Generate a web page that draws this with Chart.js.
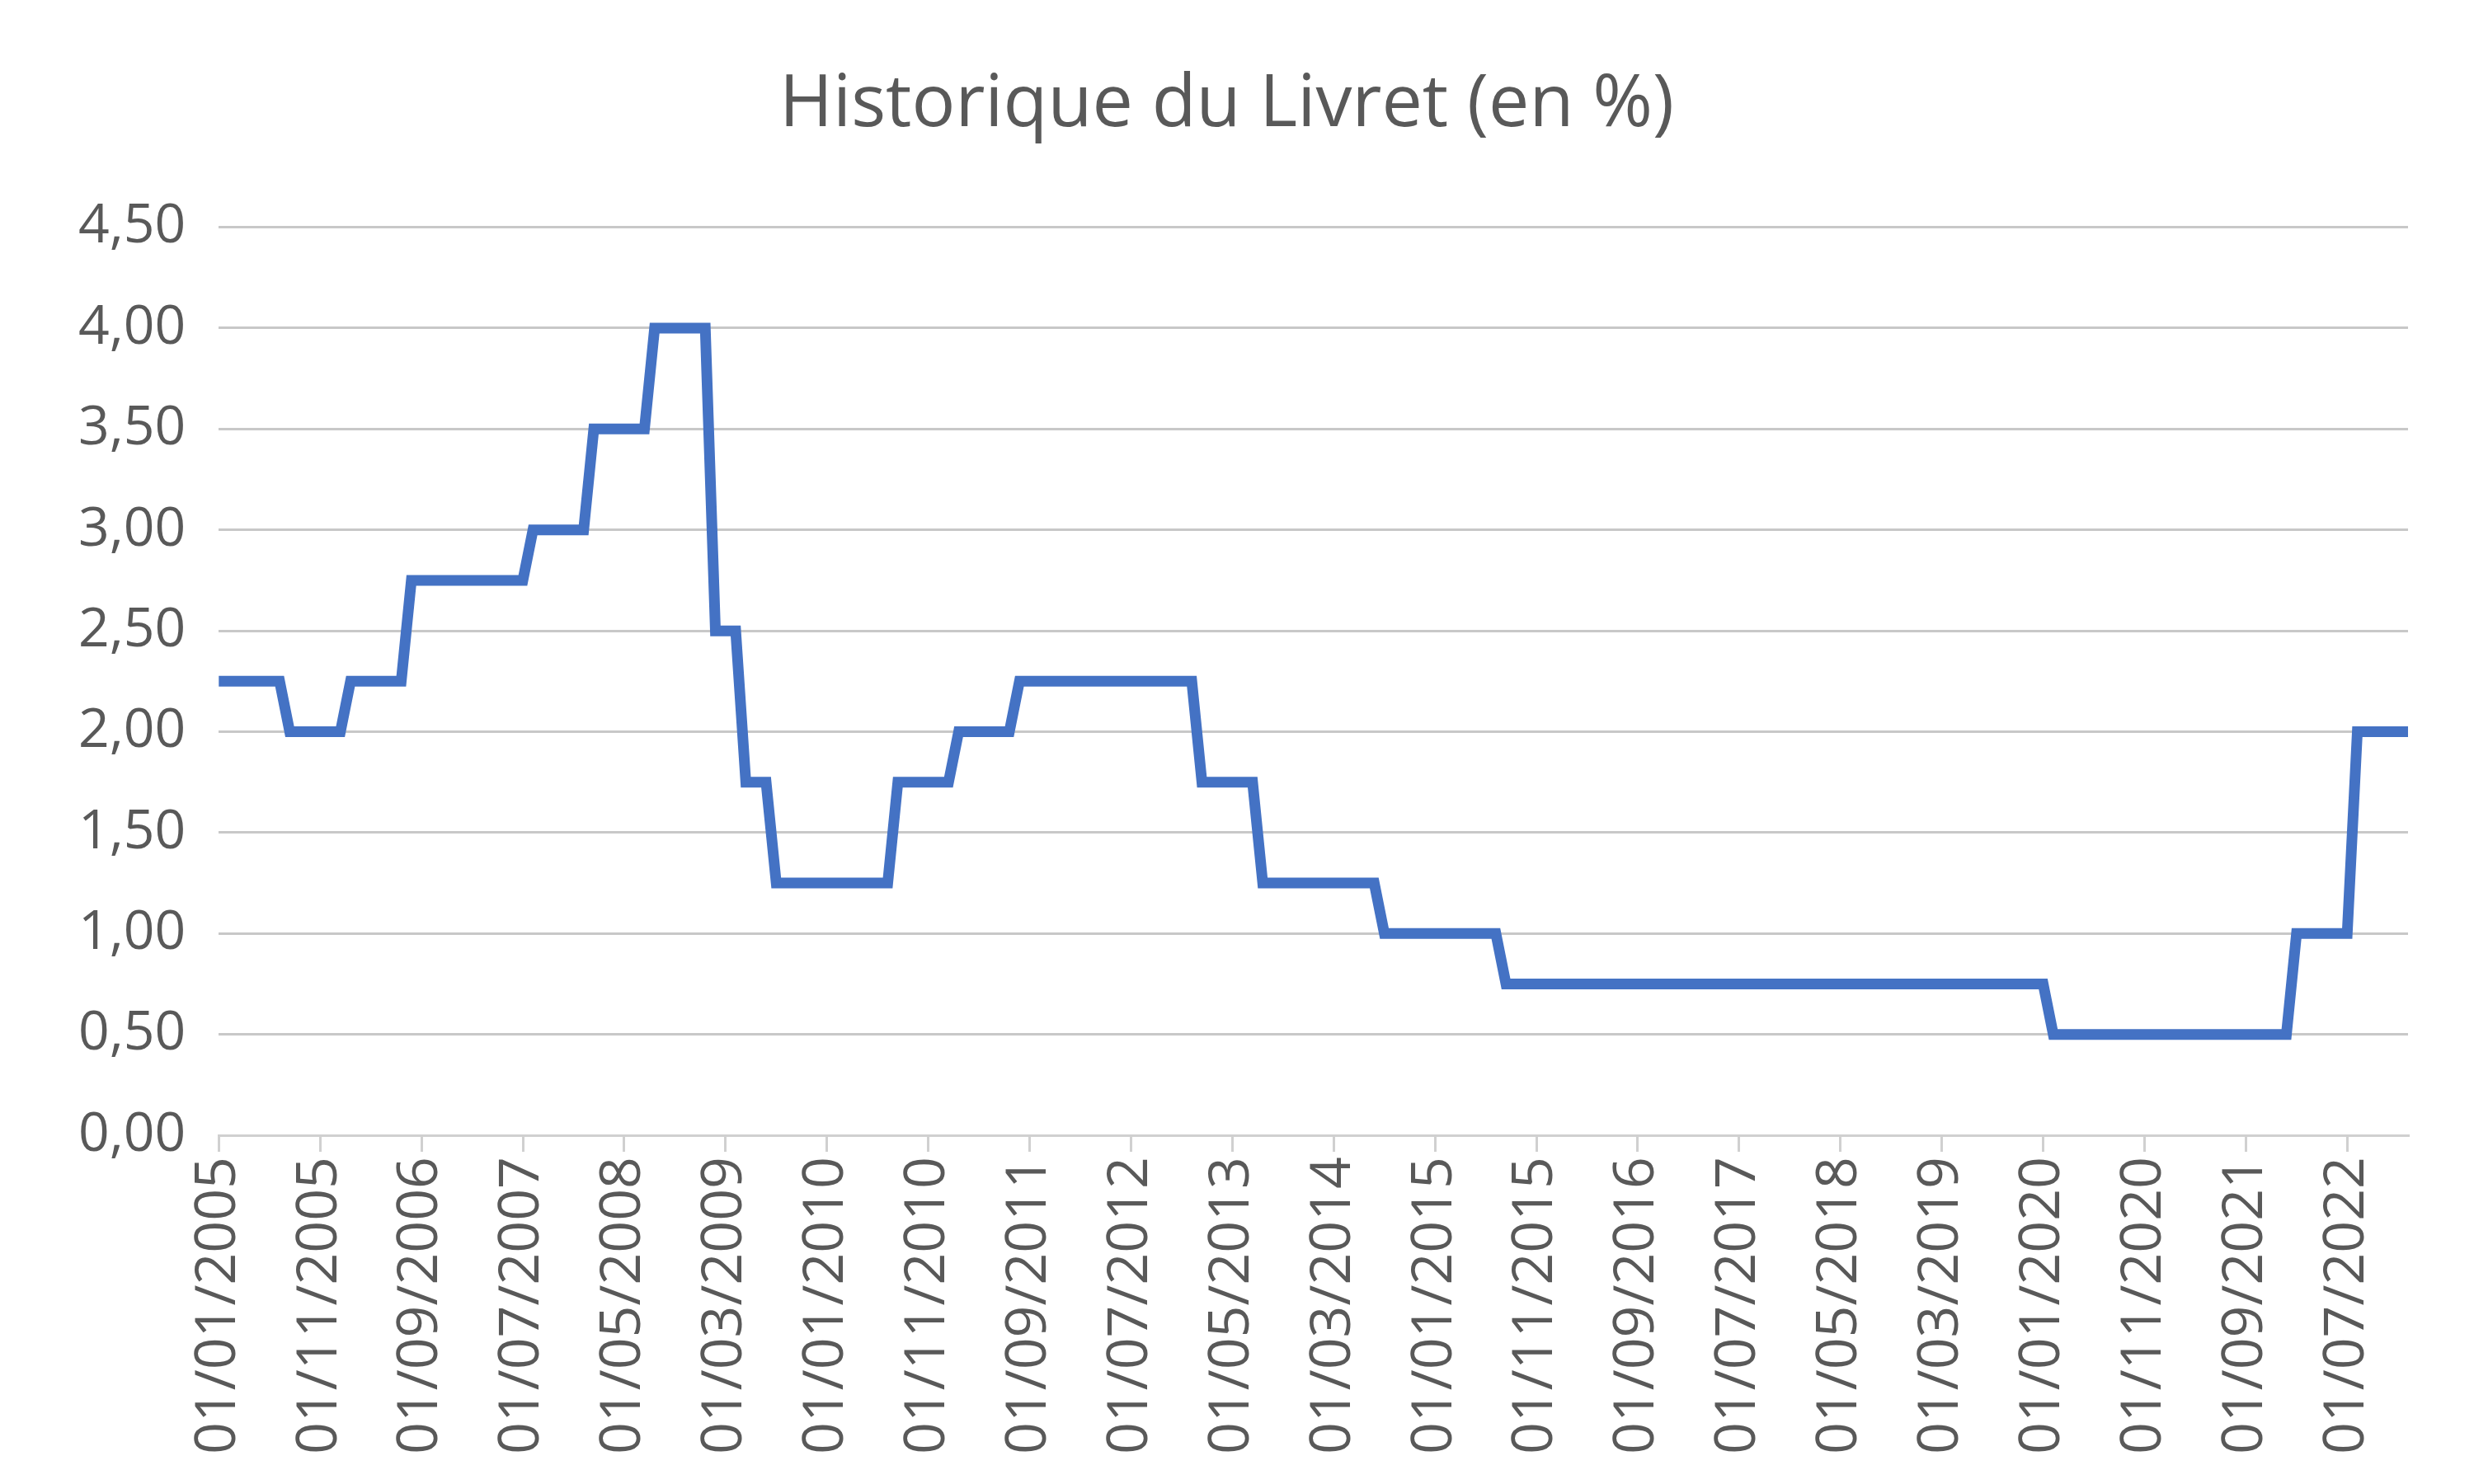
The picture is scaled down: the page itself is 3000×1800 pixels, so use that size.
<!DOCTYPE html>
<html><head><meta charset="utf-8">
<script src="https://cdn.jsdelivr.net/npm/chart.js@4"></script>
<style>html,body{margin:0;padding:0;background:#fff}</style>
</head><body>
<canvas id="c" width="3000" height="1800"></canvas>
<script>
const title = "Historique du Livret (en %)";
const startYear = 2005;
// monthly rates, Jan 2005 .. Jan 2023
const rates2005 = [2.25,2.25,2.25,2.25,2.25,2.25,2.25,2.00,2.00,2.00,2.00,2.00];
const rates2006 = [2.00,2.25,2.25,2.25,2.25,2.25,2.25,2.75,2.75,2.75,2.75,2.75];
const rates2007 = [2.75,2.75,2.75,2.75,2.75,2.75,2.75,3.00,3.00,3.00,3.00,3.00];
const rates2008 = [3.00,3.50,3.50,3.50,3.50,3.50,3.50,4.00,4.00,4.00,4.00,4.00];
const rates2009 = [4.00,2.50,2.50,2.50,1.75,1.75,1.75,1.25,1.25,1.25,1.25,1.25];
const rates2010 = [1.25,1.25,1.25,1.25,1.25,1.25,1.25,1.75,1.75,1.75,1.75,1.75];
const rates2011 = [1.75,2.00,2.00,2.00,2.00,2.00,2.00,2.25,2.25,2.25,2.25,2.25];
const rates2012 = [2.25,2.25,2.25,2.25,2.25,2.25,2.25,2.25,2.25,2.25,2.25,2.25];
const rates2013 = [2.25,1.75,1.75,1.75,1.75,1.75,1.75,1.25,1.25,1.25,1.25,1.25];
const rates2014 = [1.25,1.25,1.25,1.25,1.25,1.25,1.25,1.00,1.00,1.00,1.00,1.00];
const rates2015 = [1.00,1.00,1.00,1.00,1.00,1.00,1.00,0.75,0.75,0.75,0.75,0.75];
const rates2016 = [0.75,0.75,0.75,0.75,0.75,0.75,0.75,0.75,0.75,0.75,0.75,0.75];
const rates2017 = [0.75,0.75,0.75,0.75,0.75,0.75,0.75,0.75,0.75,0.75,0.75,0.75];
const rates2018 = [0.75,0.75,0.75,0.75,0.75,0.75,0.75,0.75,0.75,0.75,0.75,0.75];
const rates2019 = [0.75,0.75,0.75,0.75,0.75,0.75,0.75,0.75,0.75,0.75,0.75,0.75];
const rates2020 = [0.75,0.50,0.50,0.50,0.50,0.50,0.50,0.50,0.50,0.50,0.50,0.50];
const rates2021 = [0.50,0.50,0.50,0.50,0.50,0.50,0.50,0.50,0.50,0.50,0.50,0.50];
const rates2022 = [0.50,1.00,1.00,1.00,1.00,1.00,1.00,2.00,2.00,2.00,2.00,2.00];
const rates2023 = [2.00];
const values = [].concat(rates2005,rates2006,rates2007,rates2008,rates2009,rates2010,
  rates2011,rates2012,rates2013,rates2014,rates2015,rates2016,rates2017,rates2018,
  rates2019,rates2020,rates2021,rates2022,rates2023);
const labels = values.map((v,i)=>{
  const m = i%12+1, y = startYear+Math.floor(i/12);
  return "01/"+String(m).padStart(2,"0")+"/"+y;
});
const labelStep = 10;
const yTicks = [0,0.5,1,1.5,2,2.5,3,3.5,4,4.5];

const txt = "#595959";
const font = "'Open Sans', sans-serif";
new Chart(document.getElementById('c'), {
  type:'line',
  data:{labels, datasets:[{data:values, borderColor:'#4472C4', borderWidth:13,
    pointRadius:0, tension:0, fill:false, borderJoinStyle:'miter'}]},
  options:{
    responsive:false, devicePixelRatio:1, animation:false,
    layout:{padding:{left:55,right:80,top:20,bottom:30}},
    plugins:{legend:{display:false}, tooltip:{enabled:false},
      title:{display:true,text:title,color:txt,font:{family:font,size:88,weight:'normal'},padding:{top:55,bottom:95}}},
    scales:{
      x:{offset:false,
        afterBuildTicks:(ax)=>{ax.ticks=ax.ticks.filter((t,i)=>i%labelStep===0);},
        grid:{drawOnChartArea:false, tickLength:20, lineWidth:3, color:'#d0d0d0'},
        border:{display:true,color:'#d0d0d0',width:3},
        ticks:{autoSkip:false, maxRotation:90, minRotation:90, color:txt,
          font:{family:font,size:68}, padding:6,
          callback:(v)=> labels[v]}},
      y:{min:0,max:4.5,
        afterBuildTicks:(ax)=>{ax.ticks=yTicks.map(v=>({value:v}));},
        grid:{color:'#c8c8c8',lineWidth:3,drawTicks:false},
        border:{display:false},
        ticks:{color:txt,font:{family:font,size:66},padding:40,
          callback:(v)=>Number(v).toFixed(2).replace('.',',')}}
    }
  }
});
</script>
</body></html>
